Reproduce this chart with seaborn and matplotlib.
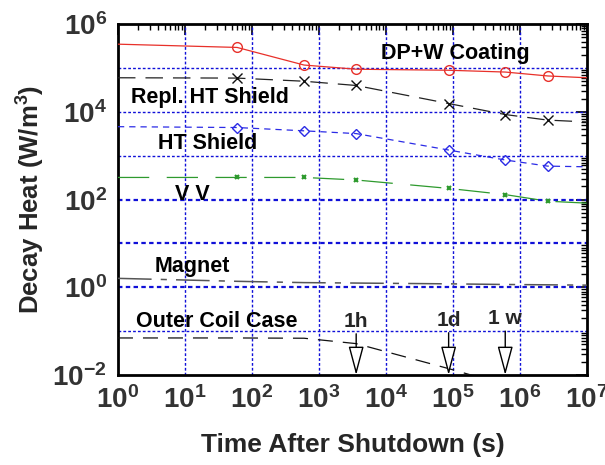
import numpy as np
import pandas as pd
import matplotlib
matplotlib.use("Agg")
import matplotlib.pyplot as plt
import matplotlib.ticker as mticker
import seaborn as sns

sns.set_theme(style="white")
plt.rcParams["font.family"] = ["Liberation Sans", "DejaVu Sans"]
plt.rcParams["mathtext.fontset"] = "custom"
plt.rcParams["mathtext.rm"] = "Liberation Sans:bold"
plt.rcParams["mathtext.bf"] = "Liberation Sans:bold"
plt.rcParams["mathtext.it"] = "Liberation Sans:bold"

# Time after shutdown (s): start, 1 min, 10 min, 1 h, 1 d, 1 w, 1 month, end
time_s = [1, 60, 600, 3600, 86400, 604800, 2.6e6, 1e7]

dp_w_coating = [3.5e5, 2.95e5, 1.17e5, 9.4e4, 8.9e4, 8.1e4, 6.6e4, 6.0e4]
repl_ht_shield = [6.0e4, 5.9e4, 5.0e4, 4.0e4, 1.55e4, 8.7e3, 6.5e3, 5.9e3]
ht_shield = [4.6e3, 4.4e3, 3.7e3, 3.2e3, 1.35e3, 8.0e2, 5.8e2, 5.6e2]
vacuum_vessel = [3.2e2, 3.2e2, 3.2e2, 2.8e2, 1.8e2, 1.3e2, 92, 83]
magnet = [1.6, 1.37, 1.28, 1.25, 1.2, 1.16, 1.14, 1.12]
outer_coil_case = [0.07, 0.07, 0.069, 0.052, 0.014, 0.006, 0.003, 0.0015]

marks = [1, 2, 3, 4, 5, 6]

arrow_times = [3600, 86400, 604800]
arrow_labels = ["1h", "1d", "1 w"]
arrow_tops = [0.087, 0.092, 0.1]

fig = plt.figure(figsize=(6.05, 4.65), dpi=100)
ax = fig.add_axes([0.195, 0.1935, 0.775, 0.7545])

series = [
    (dp_w_coating, dict(color="#e8302a", linestyle="-", lw=0.9, marker="o", ms=7,
                        mfc="none", mec="#e8302a", mew=1.0)),
    (repl_ht_shield, dict(color="#222222", linestyle=(0, (14, 8)), lw=0.9, marker="x", ms=7,
                          mec="#111111", mew=1.0)),
    (ht_shield, dict(color="#2b2be6", linestyle=(0, (5, 4)), lw=0.9, marker="D", ms=5,
                     mfc="none", mec="#2b2be6", mew=1.0)),
    (vacuum_vessel, dict(color="#2e9a2e", linestyle=(0, (25, 14)), lw=0.9, marker="x", ms=3,
                         mec="#2e9a2e", mew=1.5)),
    (magnet, dict(color="#555555", linestyle=(0, (22, 6, 4, 6)), lw=1.1, marker=None)),
    (outer_coil_case, dict(color="#111111", linestyle=(0, (12, 8)), lw=0.9, marker=None)),
]

for values, style in series:
    df = pd.DataFrame({"t": time_s, "q": values})
    kw = dict(style)
    if kw.get("marker") is not None:
        kw["markevery"] = marks
    else:
        kw.pop("marker", None)
    sns.lineplot(data=df, x="t", y="q", ax=ax, zorder=3, **kw)

ax.set_xscale("log")
ax.set_yscale("log")
ax.set_xlim(1, 1e7)
ax.set_ylim(1e-2, 1e6)

# Decade grid
for xv in [1e1, 1e2, 1e3, 1e4, 1e5, 1e6]:
    ax.axvline(xv, color="#1010d8", lw=1.0, linestyle=(0, (2, 1.5)), zorder=1)
for yv in [1e5, 1e4, 1e3, 1e2, 1e1, 1e0, 1e-1]:
    lw = 1.6 if yv in (1e2, 1e1, 1e0) else 1.0
    ax.axhline(yv, color="#1010d8", lw=lw, linestyle=(0, (2, 1.5)), zorder=1)

# Ticks
ax.xaxis.set_major_locator(mticker.LogLocator(base=10, numticks=20))
ax.xaxis.set_minor_locator(mticker.LogLocator(base=10, subs=np.arange(2, 10), numticks=20))
ax.yaxis.set_minor_locator(mticker.LogLocator(base=10, subs=np.arange(2, 10), numticks=20))
ax.yaxis.set_major_locator(mticker.FixedLocator([1e-2, 1e0, 1e2, 1e4, 1e6]))


def fmt(v, pos):
    e = int(round(np.log10(v)))
    return r"$\mathbf{10^{%d}}$" % e


ax.xaxis.set_major_formatter(mticker.FuncFormatter(fmt))
ax.yaxis.set_major_formatter(mticker.FuncFormatter(fmt))
ax.tick_params(which="both", direction="in", top=True, right=True, colors="black",
               labelcolor="#333333", labelsize=20)
ax.tick_params(which="major", length=8, width=1.2, pad=8)
ax.tick_params(which="minor", length=4, width=1.0)
ax.yaxis.set_minor_formatter(mticker.NullFormatter())
ax.xaxis.set_minor_formatter(mticker.NullFormatter())

for sp in ax.spines.values():
    sp.set_color("black")
    sp.set_linewidth(2.0)
    sp.set_visible(True)

ax.set_xlabel("Time After Shutdown (s)", fontsize=19, fontweight="bold", labelpad=14)
ax.set_ylabel(r"Decay Heat (W/m$^{\mathbf{3}}$)", fontsize=18.5, fontweight="bold", labelpad=4)

# Component labels
lbl = dict(fontsize=15.5, fontweight="bold", color="black", ha="center", va="center", zorder=4)
ax.text(1.07e5, 2.15e5, "DP+W Coating", **lbl)
ax.text(23.6, 2.1e4, "Repl. HT Shield", **lbl)
ax.text(22, 1.86e3, "HT Shield", **lbl)
ax.text(13, 1.3e2, "V V", **lbl)
ax.text(12.7, 3.0, "Magnet", **lbl)
ax.text(30, 0.17, "Outer Coil Case", **lbl)

# Time markers
for t, lab, top in zip(arrow_times, arrow_labels, arrow_tops):
    ax.annotate("", xy=(t, 1e-2), xytext=(t, top),
                arrowprops=dict(arrowstyle="-|>,head_length=1.5,head_width=0.4",
                                fc="white", ec="black", lw=1.0, shrinkA=0, shrinkB=0),
                zorder=5)
    ax.text(t, top * 1.9, lab, fontsize=15, fontweight="bold", ha="center", va="center",
            zorder=5)

fig.savefig("out.png", dpi=100)
